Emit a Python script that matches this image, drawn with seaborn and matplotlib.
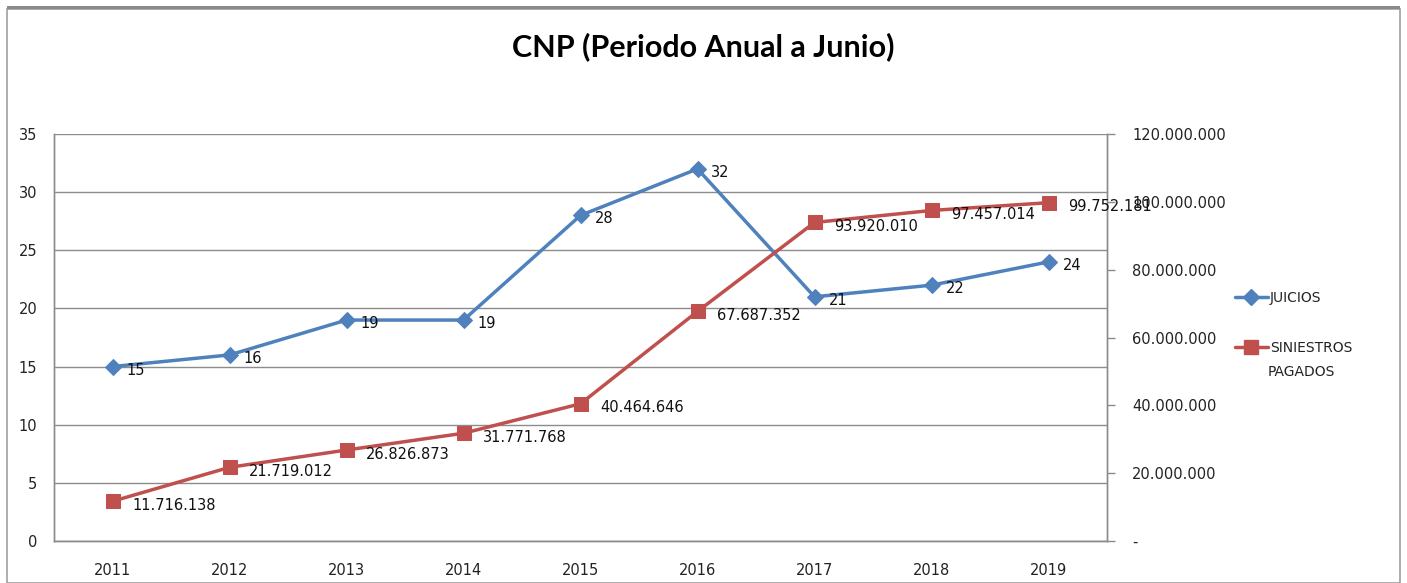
import matplotlib
matplotlib.use("Agg")
import matplotlib.pyplot as plt
import matplotlib.patches as mpatches
from matplotlib.lines import Line2D
from matplotlib.ticker import FuncFormatter, MultipleLocator
import pandas as pd
import seaborn as sns

YEARS = ["2011", "2012", "2013", "2014", "2015", "2016", "2017", "2018", "2019"]
JUICIOS = [15, 16, 19, 19, 28, 32, 21, 22, 24]
SINIESTROS = [11716138, 21719012, 26826873, 31771768, 40464646, 67687352, 93920010, 97457014, 99752181]

BLUE = "#4F81BD"
RED = "#C0504D"
GRID = "#8C8C8C"


def miles(v, _pos=None):
    if v == 0:
        return "-"
    return f"{v:,.0f}".replace(",", ".")


def main() -> None:
    sns.set_theme(style="white")
    plt.rcParams["font.family"] = ["DejaVu Sans"]

    df = pd.DataFrame({"year": YEARS, "juicios": JUICIOS, "siniestros": SINIESTROS})
    df["pos"] = range(len(df))

    fig = plt.figure(figsize=(14.07, 5.83), dpi=100)
    ax = fig.add_axes([54 / 1407, 42 / 583, 1053 / 1407, 407 / 583])
    ax2 = ax.twinx()

    sns.lineplot(data=df, x="pos", y="juicios", ax=ax, color=BLUE, lw=2.5,
                 marker="D", markersize=8, markeredgecolor=BLUE, zorder=3)
    sns.lineplot(data=df, x="pos", y="siniestros", ax=ax2, color=RED, lw=2.5,
                 marker="s", markersize=9.5, markeredgecolor=RED, zorder=3)

    ax.set_xlim(-0.5, len(YEARS) - 0.5)
    ax.set_ylim(0, 35)
    ax2.set_ylim(0, 120_000_000)
    ax.yaxis.set_major_locator(MultipleLocator(5))
    ax2.yaxis.set_major_locator(MultipleLocator(20_000_000))
    ax2.yaxis.set_major_formatter(FuncFormatter(miles))
    ax.set_xticks(df["pos"], YEARS)
    ax.set_xlabel("")
    ax.set_ylabel("")
    ax2.set_ylabel("")

    ax.grid(axis="y", color=GRID, lw=1)
    ax.set_axisbelow(True)
    for a in (ax, ax2):
        for side in ("top", "left", "right", "bottom"):
            a.spines[side].set_color(GRID)
            a.spines[side].set_linewidth(1)
    ax.spines["top"].set_visible(False)
    ax2.spines["top"].set_visible(False)

    ax.tick_params(axis="y", length=0, pad=12, labelsize=10.5, labelcolor="#222222")
    ax.tick_params(axis="x", length=0, pad=16, labelsize=10.5, labelcolor="#222222")
    ax2.tick_params(axis="y", length=6, width=1, color=GRID, pad=12, labelsize=10.5,
                    labelcolor="#222222", direction="out")

    for x, v in zip(df["pos"], JUICIOS):
        ax.annotate(str(v), (x, v), xytext=(10, -2.5), textcoords="offset points",
                    fontsize=10.5, color="#111111", va="center", ha="left", zorder=5)
    for x, v in zip(df["pos"], SINIESTROS):
        ax2.annotate(miles(v), (x, v), xytext=(14, -3), textcoords="offset points",
                     fontsize=10.5, color="#111111", va="center", ha="left", zorder=5)

    # legend: handle sits beside the first line of the two-line label, as in Excel
    handles = [
        Line2D([], [], color=BLUE, lw=2.5, marker="D", markersize=8),
        Line2D([], [], color=RED, lw=2.5, marker="s", markersize=9.5),
    ]
    leg = fig.legend(handles, ["JUICIOS", "SINIESTROS"], loc="center left",
                     bbox_to_anchor=(1222 / 1407, 1 - 323 / 583), frameon=False,
                     fontsize=10, handlelength=2.4, handletextpad=0.15, labelspacing=2.6)
    for t in leg.get_texts():
        t.set_color("#222222")
    fig.text(1268 / 1407, 1 - 372 / 583, "PAGADOS", ha="left", va="center",
             fontsize=10, color="#222222")

    fig.text(0.5, 1 - 47 / 583, "CNP (Periodo Anual a Junio)", ha="center", va="center",
             fontsize=22, fontweight="bold", color="black", family=["Lato", "DejaVu Sans"])

    fig.patches.append(mpatches.Rectangle((7 / 1407, 0), 1393 / 1407, 1 - 9 / 583,
                                          transform=fig.transFigure, fill=False,
                                          edgecolor="#A0A0A0", lw=1.2))
    fig.patches.append(mpatches.Rectangle((7 / 1407, 1 - 9 / 583), 1393 / 1407, 3 / 583,
                                          transform=fig.transFigure, color="#8A8A8A", lw=0))

    fig.savefig("out.png", dpi=100)
    plt.close(fig)


if __name__ == "__main__":
    main()
